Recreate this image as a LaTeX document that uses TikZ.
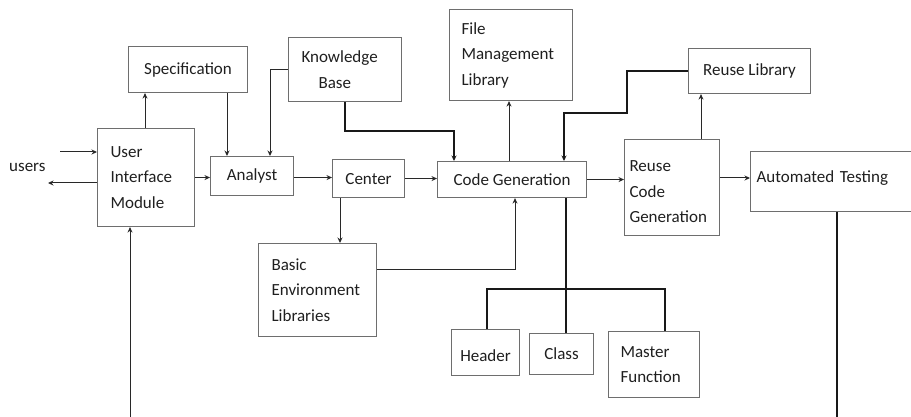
\documentclass[tikz,border=0pt]{standalone}
\usepackage{fontspec}
\setmainfont{Carlito}
\usetikzlibrary{arrows.meta}
\definecolor{boxgray}{RGB}{110,110,110}
\definecolor{linegray}{RGB}{40,40,40}
\tikzset{
  box/.style={draw=boxgray, line width=1.1pt, anchor=north west, inner ysep=0pt,
    font=\fontsize{17}{25.5}\selectfont, text=black!88},
  thin/.style={draw=linegray, line width=1pt},
  thickline/.style={draw=black!90, line width=2pt},
  arr/.style={-{Stealth[length=5.5pt,width=5pt]}},
}
\begin{document}
\begin{tikzpicture}[x=1pt,y=-1pt]
\useasboundingbox (0,0) rectangle (911,417);
% boxes
\node[box, minimum width=119pt, minimum height=46pt] (spec) at (128,46) {Specification};
\node[box, minimum width=97pt, minimum height=98pt, text width=71pt, inner xsep=13pt, align=left] (uim) at (97,128) {User\\Interface\\Module};
\node[box, minimum width=83pt, minimum height=39pt] (analyst) at (210,156) {Analyst};
\node[box, minimum width=113pt, minimum height=64pt, text width=87pt, inner xsep=13pt, align=left] (kb) at (288,37) {Knowledge\\\hspace*{17pt}Base};
\node[box, minimum width=123pt, minimum height=91pt, text width=99pt, inner xsep=12pt, align=left] (fml) at (449,9) {File\\Management\\Library};
\node[box, minimum width=72pt, minimum height=38pt] (center) at (332,159) {Center};
\node[box, minimum width=149pt, minimum height=36pt] (cg) at (437,161) {Code Generation};
\node[box, minimum width=122pt, minimum height=45pt] (rl) at (688,48) {Reuse Library};
\node[box, minimum width=95pt, minimum height=96pt, text width=85pt, inner xsep=5pt, align=left] (rcg) at (624,139) {\rule{0pt}{20pt}Reuse\\Code\\Generation};
\node[box, minimum width=165pt, minimum height=60pt, text width=153pt, inner xsep=6pt, align=left] (at) at (750,151) {Automated Testing\rule[-10pt]{0pt}{1pt}};
\node[box, minimum width=68pt, minimum height=46pt] (header) at (451,329) {\raisebox{-3pt}[\height][\depth]{Header}};
\node[box, minimum width=64pt, minimum height=41pt] (class) at (529,333) {Class};
\node[box, minimum width=91pt, minimum height=66pt, text width=67pt, inner xsep=12pt, align=left] (mf) at (608,331) {Master\\Function};
\node[box, minimum width=118pt, minimum height=93pt, text width=92pt, inner xsep=13pt, align=left] (bel) at (258,243) {Basic\\Environment\\Libraries};
\node[font=\fontsize{17}{20}\selectfont, text=black!88, anchor=west, inner sep=0pt] (users) at (9,167) {users};
% helper coordinates
\coordinate (uin) at (60,152);
\coordinate (uout) at (48,183);
\coordinate (x145) at (145,0);
\coordinate (x227) at (227,0);
\coordinate (x270) at (270,0);
\coordinate (k1) at (345,131);
\coordinate (k2) at (454,131);
\coordinate (x509) at (509,0);
\coordinate (r1) at (627,113);
\coordinate (r2) at (564,113);
\coordinate (x701) at (701,0);
\coordinate (y178) at (0,178);
\coordinate (b1) at (837,417);
\coordinate (b2) at (130,417);
\coordinate (x340) at (340,0);
\coordinate (e1) at (515,269);
\coordinate (x566) at (566,0);
\coordinate (bus1) at (487,289);
\coordinate (bus2) at (665,289);
% thin connectors
\draw[thin,arr] (uin) -- (uin -| uim.west);
\draw[thin,arr] (uim.west |- uout) -- (uout);
\draw[thin,arr] (uim.north -| x145) -- (spec.south -| x145);
\draw[thin,arr] (spec.south -| x227) -- (analyst.north -| x227);
\draw[thin,arr] (kb.west) -| (analyst.north -| x270);
\draw[thin,arr] (uim.east) -- (uim.east -| analyst.west);
\draw[thin,arr] (analyst.east |- uim.east) -- (center.west |- uim.east);
\draw[thin,arr] (center.east) -- (center.east -| cg.west);
\draw[thin,arr] (cg.north -| x509) -- (fml.south -| x509);
\draw[thin,arr] (cg.east) -- (cg.east -| rcg.west);
\draw[thin,arr] (rcg.north -| x701) -- (rl.south -| x701);
\draw[thin,arr] (rcg.east |- y178) -- (at.west |- y178);
\draw[thin,arr] (b2) -- (uim.south -| b2);
\draw[thin,arr] (center.south -| x340) -- (bel.north -| x340);
\draw[thin,arr] (bel.east |- e1) -- (e1) -- (cg.south -| e1);
% thick connectors
\draw[thickline,arr] (kb.south -| k1) -- (k1) -- (k2) -- (cg.north -| k2);
\draw[thickline,arr] (rl.west) -| (r1) -- (r2) -- (cg.north -| r2);
\draw[thickline] (at.south -| b1) -- (b1);
\draw[thickline] (cg.south -| x566) -- (class.north -| x566);
\draw[thickline] (header.north -| bus1) -- (bus1) -- (bus2) -- (mf.north -| bus2);
\end{tikzpicture}
\end{document}
